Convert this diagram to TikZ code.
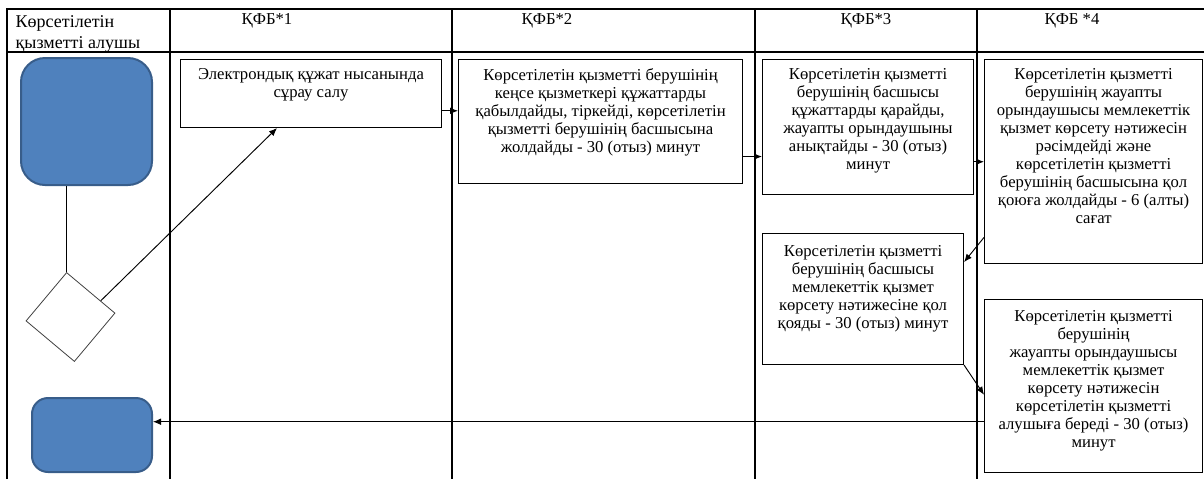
\documentclass[tikz,border=0pt]{standalone}
\usepackage{fontspec}
\setmainfont{Liberation Serif}
\newfontfamily\timesfont{Liberation Serif}
\usetikzlibrary{calc,arrows.meta}
\definecolor{fillblue}{HTML}{4F81BD}
\definecolor{lineblue}{HTML}{385D8A}
\newcommand{\boxtext}[4][7pt]{\begin{minipage}[t][#3][t]{#2}\centering\vspace*{#1}#4\end{minipage}}

\begin{document}
\begin{tikzpicture}[x=0.75pt, y=-0.75pt, >={Latex[length=6pt,width=5pt]},
    every node/.style={font=\timesfont\fontsize{12.5}{13.5}\selectfont},
    box/.style={draw, inner sep=0pt, anchor=north west, line width=0.8pt},
    term/.style={draw=lineblue, fill=fillblue, line width=1.5pt, rounded corners=#1},
    lane/.style={line width=0.8pt},
    link/.style={line width=0.7pt}]
  \useasboundingbox (0,0) rectangle (1204,479);
  % lanes
  \draw[lane] (7,479) -- (7,9) -- (1204,9);
  \draw[lane] (7,52) -- (1204,52);
  \foreach \x in {170,452,755,977}
    \draw[lane] (\x,9) -- (\x,479);
  \node[anchor=north west, align=left, font=\timesfont\fontsize{13.5}{15.5}\selectfont] (H0) at (11,11) {Көрсетілетін\\қызметті алушы};
  \node (H1) at (267,21) {ҚФБ*1};
  \node (H2) at (547,21) {ҚФБ*2};
  \node (H3) at (866,21) {ҚФБ*3};
  \node (H4) at (1072,21) {ҚФБ *4};
  % service receiver
  \node[term=18pt, minimum width=98.25pt, minimum height=95.25pt] (S) at (86.5,121.5) {};
  \node[draw=black!75, line width=0.6pt, minimum size=47.25pt, rotate=50] (D) at (70.5,317) {};
  \node[term=12pt, minimum width=90pt, minimum height=55.5pt] (E) at (92,435) {};
  % steps
  \node[box] (B1) at (180,59) {\boxtext{195.75pt}{51pt}{Электрондық құжат нысанында\\сұрау салу}};
  \node[box] (B2) at (458,59) {\boxtext{213pt}{93pt}{Көрсетілетін қызметті берушінің\\кеңсе қызметкері құжаттарды\\қабылдайды, тіркейді, көрсетілетін\\қызметті берушінің басшысына\\жолдайды - 30 (отыз) минут}};
  \node[box] (B3) at (762,59) {\boxtext{158.25pt}{101.25pt}{Көрсетілетін қызметті\\берушінің басшысы\\құжаттарды қарайды,\\жауапты орындаушыны\\анықтайды - 30 (отыз)\\минут}};
  \node[box] (B4) at (984,59) {\boxtext{163.5pt}{153pt}{Көрсетілетін қызметті\\берушінің жауапты\\орындаушысы мемлекеттік\\қызмет көрсету нәтижесін\\рәсімдейді және\\көрсетілетін қызметті\\берушінің басшысына қол\\қоюға жолдайды - 6 (алты)\\сағат}};
  \node[box] (B5) at (762,233) {\boxtext[9pt]{150.75pt}{98.25pt}{Көрсетілетін қызметті\\берушінің басшысы\\мемлекеттік қызмет\\көрсету нәтижесіне қол\\қояды - 30 (отыз) минут}};
  \node[box] (B6) at (984,299) {\boxtext[8pt]{163.5pt}{129.75pt}{Көрсетілетін қызметті\\берушінің\\жауапты орындаушысы\\мемлекеттік қызмет\\көрсету нәтижесін\\көрсетілетін қызметті\\алушыға береді - 30 (отыз)\\минут}};
  % flow
  \draw[link] (D.north east |- S.south) -- (D.north east);
  \draw[link, ->] ($(D.east)!.4!(D.south east)$) -- ($(B1.south west)!.37!(B1.south east)$);
  \draw[link, ->] ($(B1.north east)!.75!(B1.south east)$) coordinate (a1) -- (a1 -| B2.west);
  \draw[link, ->] ($(B2.north east)!.78!(B2.south east)$) coordinate (a2) -- (a2 -| B3.west);
  \draw[link, ->] ($(B3.north east)!.755!(B3.south east)$) coordinate (a3) -- (a3 -| B4.west);
  \draw[link, ->] ($(B4.north west)!.87!(B4.south west)$) -- ($(B5.north east)!.22!(B5.south east)$);
  \draw[link, ->] (B5.south east) -- ($(B6.north west)!.55!(B6.south west)$);
  \draw[link, ->] ($(B6.north west)!.705!(B6.south west)$) coordinate (a6) -- (a6 -| E.east);
\end{tikzpicture}
\end{document}
